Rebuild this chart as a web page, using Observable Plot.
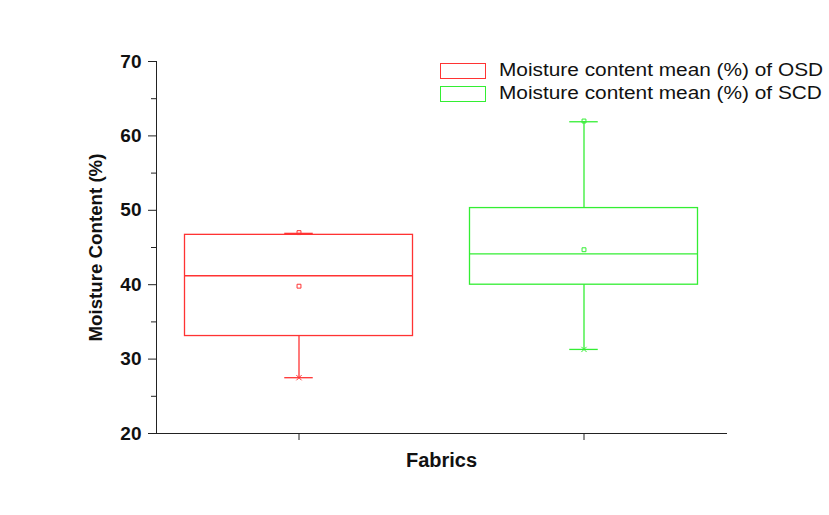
<!DOCTYPE html>
<html>
<head>
<meta charset="utf-8">
<script src="https://cdn.jsdelivr.net/npm/d3@7"></script>
<script src="https://cdn.jsdelivr.net/npm/@observablehq/plot@0.6"></script>
<style>
  html, body { margin: 0; padding: 0; background: #fff; }
  #wrap { position: relative; width: 829px; height: 515px; font-family: "Liberation Sans", Arial, sans-serif; }
  #legend { position: absolute; left: 440px; top: 59px; }
  .item { display: flex; align-items: center; height: 23px; }
  .swatch { width: 46px; height: 16px; box-sizing: border-box; border: 1.3px solid; margin-right: 13px; flex: none; }
  .lab { display: inline-block; font-size: 17.5px; color: #111; white-space: nowrap; transform: scaleX(1.19); transform-origin: left center; }
  svg [aria-label="y-axis tick label"] { font-size: 19px; font-weight: bold; }
  svg [aria-label="y-axis label"] { font-size: 18.7px; font-weight: bold; }
  svg [aria-label="x-axis label"] { font-size: 20px; font-weight: bold; }
</style>
</head>
<body>
<div id="wrap"><div id="legend"></div></div>
<script>
// ---- data ----
const fabrics = ["OSD", "SCD"];
const xPositions = [1, 2];
const colors = ["#ff3333", "#33ee33"];
const legendLabels = ["Moisture content mean (%) of OSD", "Moisture content mean (%) of SCD"];
const q1 = [33.1, 40.0];
const median = [41.2, 44.15];
const q3 = [46.7, 50.3];
const whiskerLow = [27.5, 31.3];
const whiskerHigh = [46.9, 61.9];
const meanValues = [39.8, 44.7];
const maxValues = [47.0, 62.0];
const minValues = [27.5, 31.3];
const yMajorTicks = [20, 30, 40, 50, 60, 70];
const yMinorTicks = [25, 35, 45, 55, 65];

const rows = fabrics.map((f, i) => ({
  fabric: f, x: xPositions[i], color: colors[i],
  q1: q1[i], median: median[i], q3: q3[i],
  lo: whiskerLow[i], hi: whiskerHigh[i],
  mean: meanValues[i], max: maxValues[i], min: minValues[i]
}));

const boxHalf = 0.4, capHalf = 0.05;

const chart = Plot.plot({
  width: 829,
  height: 515,
  marginLeft: 156,
  marginRight: 103,
  marginTop: 61,
  marginBottom: 82,
  style: { fontFamily: "Liberation Sans, Arial, sans-serif", background: "transparent", color: "#111" },
  x: { domain: [0.5, 2.5] },
  y: { domain: [20, 70] },
  color: { type: "identity" },
  marks: [
    Plot.axisY({ ticks: yMinorTicks, tickSize: 5, tickFormat: () => "", label: null, stroke: "#222" }),
    Plot.axisY({
      ticks: yMajorTicks, tickSize: 8, tickPadding: 7, fontSize: 19, fontWeight: "bold",
      stroke: "#222",
      label: "Moisture Content (%)", labelAnchor: "center", labelOffset: 68, labelArrow: "none"
    }),
    Plot.axisX({
      ticks: xPositions, tickSize: 7, tickFormat: () => "", fontSize: 20, fontWeight: "bold",
      stroke: "#222",
      label: "Fabrics", labelAnchor: "center", labelOffset: 33, labelArrow: "none"
    }),
    Plot.frame({ anchor: "left", stroke: "#222" }),
    Plot.frame({ anchor: "bottom", stroke: "#222" }),
    // boxes
    Plot.rect(rows, { x1: d => d.x - boxHalf, x2: d => d.x + boxHalf, y1: "q1", y2: "q3", fill: "none", stroke: "color", strokeWidth: 1.3 }),
    // medians
    Plot.ruleY(rows, { y: "median", x1: d => d.x - boxHalf, x2: d => d.x + boxHalf, stroke: "color", strokeWidth: 1.3 }),
    // whiskers
    Plot.ruleX(rows, { x: "x", y1: "q3", y2: "hi", stroke: "color", strokeWidth: 1.3 }),
    Plot.ruleX(rows, { x: "x", y1: "lo", y2: "q1", stroke: "color", strokeWidth: 1.3 }),
    // caps
    Plot.ruleY(rows, { y: "hi", x1: d => d.x - capHalf, x2: d => d.x + capHalf, stroke: "color", strokeWidth: 1.3 }),
    Plot.ruleY(rows, { y: "lo", x1: d => d.x - capHalf, x2: d => d.x + capHalf, stroke: "color", strokeWidth: 1.3 }),
    // mean, max, min markers
    Plot.dot(rows, { x: "x", y: "mean", symbol: "square", r: 2.2, fill: "none", stroke: "color", strokeWidth: 1 }),
    Plot.dot(rows, { x: "x", y: "max", symbol: "square", r: 2.2, fill: "none", stroke: "color", strokeWidth: 1 }),
    Plot.dot(rows, { x: "x", y: "min", symbol: "times", r: 2.5, fill: "none", stroke: "color", strokeWidth: 1 })
  ]
});

const wrap = document.getElementById("wrap");
wrap.insertBefore(chart, wrap.firstChild);

const legend = document.getElementById("legend");
legendLabels.forEach((t, i) => {
  const item = document.createElement("div");
  item.className = "item";
  const sw = document.createElement("div");
  sw.className = "swatch";
  sw.style.borderColor = colors[i];
  const lab = document.createElement("span");
  lab.className = "lab";
  lab.textContent = t;
  item.appendChild(sw);
  item.appendChild(lab);
  legend.appendChild(item);
});
</script>
</body>
</html>
